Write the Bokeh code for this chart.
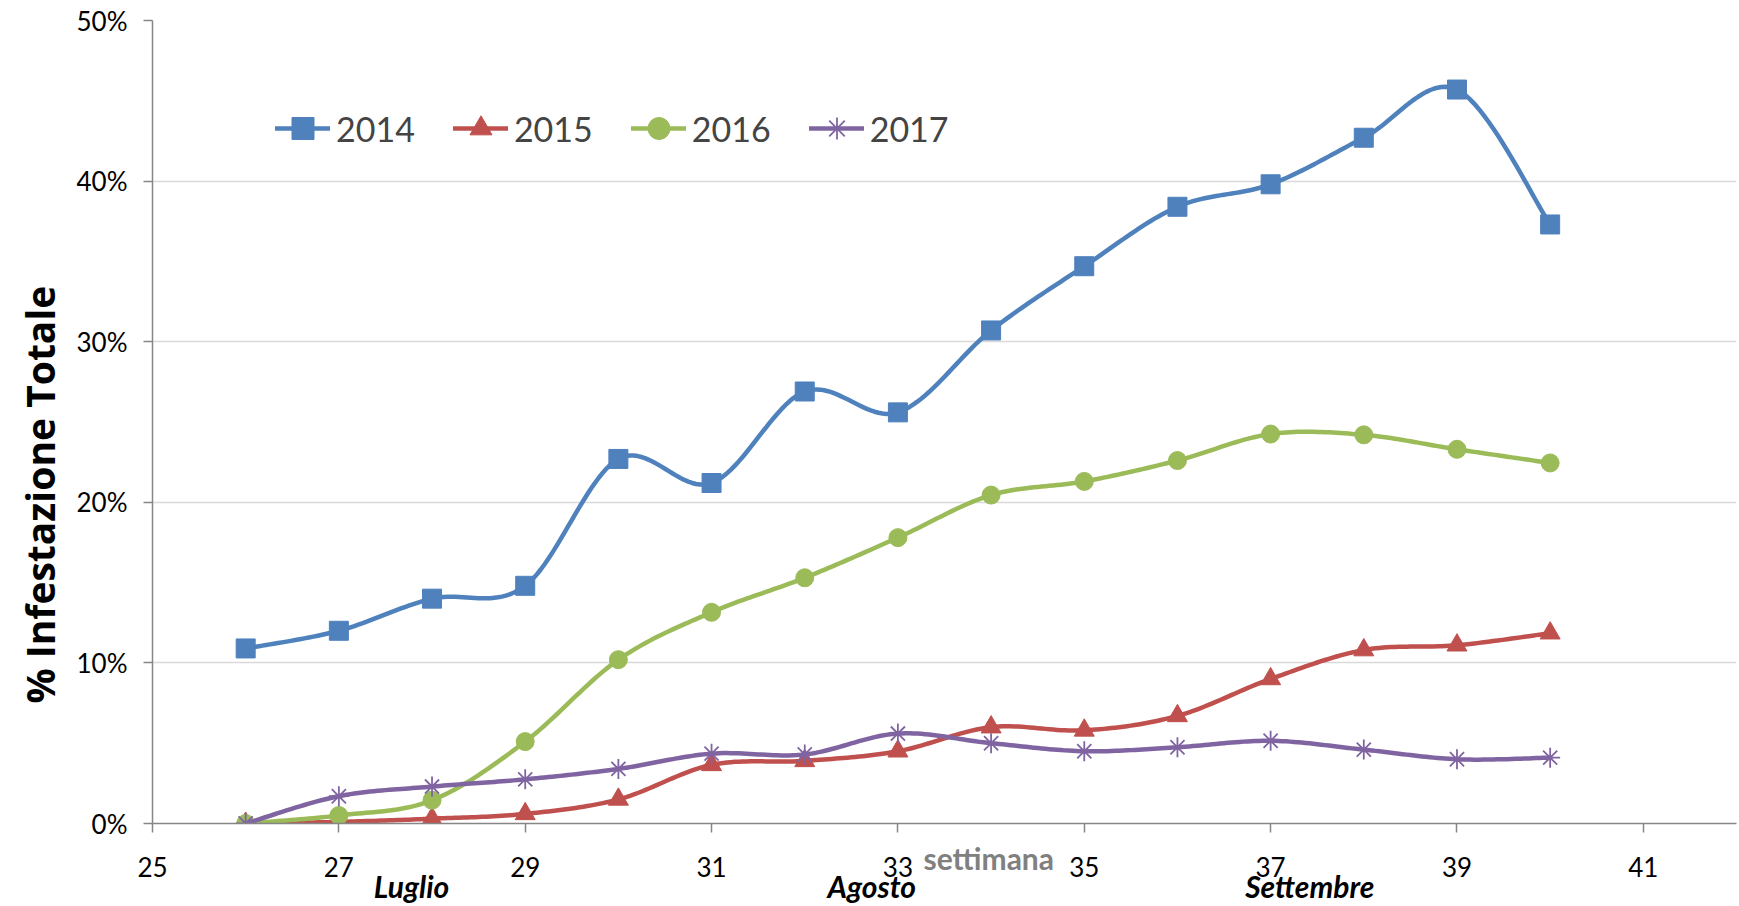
import numpy as np
from bokeh.plotting import figure
from bokeh.models import (Legend, LegendItem, FixedTicker, NumeralTickFormatter, Range1d,
                          LinearAxis, Title)
from bokeh.embed import file_html
from bokeh.resources import INLINE

weeks = [26, 27, 28, 29, 30, 31, 32, 33, 34, 35, 36, 37, 38, 39, 40]
y2014 = [10.9, 12.0, 14.0, 14.8, 22.7, 21.2, 26.9, 25.6, 30.7, 34.7, 38.4, 39.8, 42.7, 45.7, 37.3]
y2015 = [0.0, 0.1, 0.3, 0.6, 1.5, 3.65, 3.9, 4.5, 6.0, 5.8, 6.7, 9.0, 10.8, 11.1, 11.85]
y2016 = [0.0, 0.5, 1.45, 5.1, 10.2, 13.15, 15.3, 17.8, 20.45, 21.3, 22.6, 24.25, 24.2, 23.3, 22.45]
y2017 = [0.0, 1.7, 2.3, 2.75, 3.4, 4.35, 4.3, 5.6, 5.0, 4.5, 4.75, 5.15, 4.6, 4.0, 4.1]
series_names = ["2014", "2015", "2016", "2017"]
x_ticks = [25, 27, 29, 31, 33, 35, 37, 39, 41]
y_ticks = [0.0, 0.1, 0.2, 0.3, 0.4, 0.5]
months = ["Luglio", "Agosto", "Settembre"]
month_pos = [27.78, 32.72, 37.42]

colors = ["#4F81BD", "#C0504D", "#9BBB59", "#8064A2"]
markers = ["square", "triangle", "circle", "asterisk"]
msizes = [19, 20, 18, 20]


def smooth(xs, ys, n=24):
    """Bezier smoothing (Catmull-Rom style) for drawing the curve through the points."""
    xs = np.asarray(xs, float)
    ys = np.asarray(ys, float)
    ox, oy = [], []
    m = len(xs)
    for i in range(m - 1):
        i0 = max(i - 1, 0)
        i3 = min(i + 2, m - 1)
        p0 = np.array([xs[i0], ys[i0]])
        p1 = np.array([xs[i], ys[i]])
        p2 = np.array([xs[i + 1], ys[i + 1]])
        p3 = np.array([xs[i3], ys[i3]])
        c1 = p1 + (p2 - p0) / 6.0
        c2 = p2 - (p3 - p1) / 6.0
        t = np.linspace(0, 1, n, endpoint=(i == m - 2))
        b = ((1 - t) ** 3)[:, None] * p1 + (3 * (1 - t) ** 2 * t)[:, None] * c1 \
            + (3 * (1 - t) * t ** 2)[:, None] * c2 + (t ** 3)[:, None] * p2
        ox.extend(b[:, 0])
        oy.extend(b[:, 1])
    return ox, oy


p = figure(width=1739, height=906, output_backend="svg", toolbar_location=None,
           x_range=Range1d(25, 42), y_range=Range1d(0, 0.5),
           min_border_left=152, min_border_right=3, min_border_top=20, min_border_bottom=81)
p.outline_line_color = None
p.background_fill_color = "white"
p.border_fill_color = "white"

p.xgrid.grid_line_color = None
p.ygrid.grid_line_color = "#D9D9D9"
p.ygrid.grid_line_width = 1.5
p.ygrid.ticker = FixedTicker(ticks=y_ticks)

p.xaxis.ticker = FixedTicker(ticks=x_ticks)
p.yaxis.ticker = FixedTicker(ticks=y_ticks)
p.yaxis.formatter = NumeralTickFormatter(format="0%")
for ax in (p.xaxis, p.yaxis):
    ax.axis_line_color = "#868686"
    ax.axis_line_width = 1.5
    ax.major_tick_line_color = "#868686"
    ax.major_tick_line_width = 1.5
    ax.major_tick_out = 9
    ax.major_tick_in = 0
    ax.minor_tick_line_color = None
    ax.major_label_text_font = "Lato"
    ax.major_label_text_font_size = "26px"
    ax.major_label_text_color = "black"
p.xaxis.major_label_standoff = 24
p.yaxis.major_label_standoff = 16

# month names as a label-only axis below the week axis
month_axis = LinearAxis(ticker=FixedTicker(ticks=month_pos),
                        major_label_overrides={mp: mn for mp, mn in zip(month_pos, months)})
month_axis.axis_line_color = None
month_axis.major_tick_line_color = None
month_axis.minor_tick_line_color = None
month_axis.major_tick_out = 0
month_axis.major_tick_in = 0
month_axis.major_label_standoff = -12
month_axis.major_label_text_font = "Lato"
month_axis.major_label_text_font_style = "bold italic"
month_axis.major_label_text_font_size = "30px"
month_axis.major_label_text_color = "black"
p.add_layout(month_axis, "below")

# x axis title "settimana", sitting between the week labels
p.add_layout(Title(text="settimana", align="left", offset=771, vertical_align="top", standoff=-133,
                   text_font="Lato", text_font_style="bold", text_font_size="30px",
                   text_color="#808080"), "below")

# y axis title
p.add_layout(Title(text="% Infestazione Totale", align="left", offset=120, standoff=16,
                   text_font="Open Sans", text_font_style="bold", text_font_size="39px",
                   text_color="black"), "left")

items = []
for name, ys, col, mk, ms in zip(series_names, [y2014, y2015, y2016, y2017], colors, markers, msizes):
    yf = [v / 100.0 for v in ys]
    sx, sy = smooth(weeks, yf)
    r1 = p.line(sx, sy, line_color=col, line_width=4.5, line_cap="round", line_join="round")
    if mk == "asterisk":
        r2 = p.scatter(weeks, yf, marker=mk, size=ms, line_color=col, line_width=1.8)
    else:
        r2 = p.scatter(weeks, yf, marker=mk, size=ms, fill_color=col, line_color=col)
    items.append(LegendItem(label=name, renderers=[r1, r2]))

legend = Legend(items=items, orientation="horizontal", location=(123, 655),
                label_text_font="Lato", label_text_font_size="34px",
                glyph_width=55, glyph_height=80, label_height=80,
                label_standoff=6, spacing=38, padding=38,
                background_fill_color="white", background_fill_alpha=1.0,
                border_line_color=None)
p.add_layout(legend, "center")

open("out.html", "w").write(file_html(p, INLINE))
